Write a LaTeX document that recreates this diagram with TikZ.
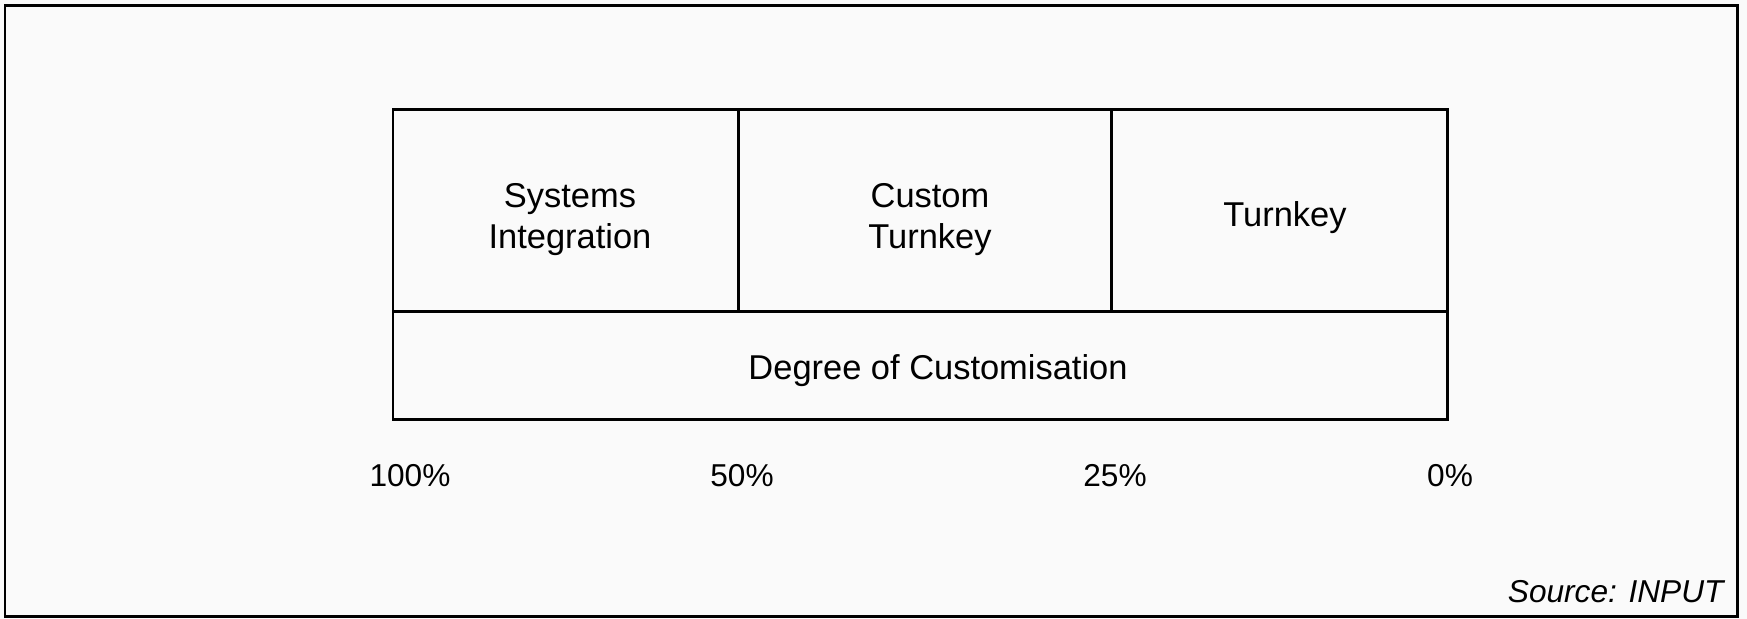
\documentclass[tikz,border=0pt]{standalone}
\usepackage{fontspec}
\setmainfont{Liberation Sans}
\begin{document}
\begin{tikzpicture}[line width=.85pt,
  lbl/.style={font=\fontsize{9.8}{11.7}\selectfont, align=center, inner sep=0pt},
  pct/.style={font=\fontsize{9}{11}\selectfont, inner sep=0pt}]

\useasboundingbox (0,0) rectangle (17.47,6.19);
\fill [black!2] (0,0) rectangle (17.47,6.19);
\draw (0.05,0.02) rectangle (17.37,6.13);

\draw (3.93,1.99) rectangle (14.47,5.09);
\draw (3.93,3.07) -- (14.47,3.07);
\draw (7.38,3.07) -- (7.38,5.09);
\draw (11.11,3.07) -- (11.11,5.09);

\node[lbl] (sysint) at (5.70,3.99) {Systems\\Integration};
\node[lbl] (custom) at (9.30,3.99) {Custom\\Turnkey};
\node[lbl] (turnkey) at (12.85,4.01) {Turnkey};
\node[lbl] (degree) at (9.38,2.48) {Degree of Customisation};

\node[pct] (p100) at (4.10,1.43) {100\%};
\node[pct] (p50) at (7.42,1.43) {50\%};
\node[pct] (p25) at (11.15,1.43) {25\%};
\node[pct] (p0) at (14.50,1.43) {0\%};

\node[pct, font=\fontsize{9}{11}\selectfont\itshape, anchor=base east] (source) at (17.25,0.16) {Source: INPUT};
\end{tikzpicture}
\end{document}
